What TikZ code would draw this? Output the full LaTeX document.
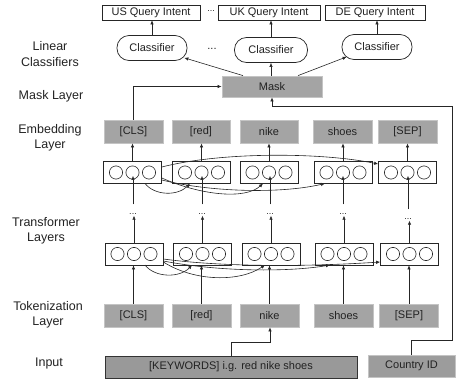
\documentclass[tikz,border=0pt]{standalone}
\usepackage{fontspec}
\setmainfont{Liberation Sans}
\usetikzlibrary{arrows.meta}
\definecolor{boxgray}{HTML}{A4A4A4}
\definecolor{boxline}{HTML}{C4C4C4}
\definecolor{kwgray}{HTML}{999999}
\definecolor{txt}{HTML}{222222}
\begin{document}
\begin{tikzpicture}[x=1pt,y=-1pt,
  font=\fontsize{11}{13}\selectfont, text=txt,
  arr/.style={-{Latex[length=4pt,width=3.5pt]}, line width=0.6pt, black!85},
  ln/.style={line width=0.6pt, black!85},
  outbox/.style={draw=black!85, line width=0.7pt, fill=white, minimum height=15pt, inner sep=0pt},
  clsbox/.style={draw=black!85, line width=0.7pt, fill=white, rounded corners=12pt, minimum width=70pt, minimum height=25pt, inner sep=0pt},
  graybox/.style={draw=boxline, line width=0.8pt, fill=boxgray, minimum width=59pt, minimum height=23pt, inner sep=0pt},
  tfbox/.style={draw=black!85, line width=0.7pt, fill=white, minimum width=58pt, minimum height=22pt, inner sep=0pt},
  lbl/.style={font=\fontsize{12.5}{15.5}\selectfont, align=center, text=txt},
  dots/.style={font=\fontsize{9}{10}\selectfont, inner sep=1pt}
]
\useasboundingbox (0,0) rectangle (456,381);

% left labels
\node[lbl] (Llin) at (50,54) {Linear\\Classifiers};
\node[lbl] (Lmask) at (51,96) {Mask Layer};
\node[lbl] (Lemb) at (50,138) {Embedding\\Layer};
\node[lbl] (Ltf) at (46,231) {Transformer\\Layers};
\node[lbl] (Ltok) at (48,315) {Tokenization\\Layer};
\node[lbl] (Lin) at (49,363) {Input};

% outputs
\node[outbox, minimum width=98pt] (us) at (151,12.5) {US Query Intent};
\node[dots] (odots) at (211,11) {...};
\node[outbox, minimum width=102pt] (uk) at (269,12.5) {UK Query Intent};
\node[outbox, minimum width=100pt] (de) at (375,12.5) {DE Query Intent};

% classifiers
\node[clsbox] (c1) at (152,48) {Classifier};
\node[dots, font=\fontsize{11}{12}\selectfont] (cdots) at (212,49) {...};
\node[clsbox, minimum width=73pt] (c2) at (271,50) {Classifier};
\node[clsbox] (c3) at (377,47) {Classifier};

% mask
\node[graybox, minimum width=100pt, minimum height=21pt] (mask) at (272,86.5) {Mask};

% embedding
\node[graybox] (e1) at (133.5,131.5) {[CLS]};
\node[graybox, minimum width=58pt] (e2) at (201,131.5) {[red]};
\node[graybox, minimum width=58pt] (e3) at (269,131.5) {nike};
\node[graybox] (e4) at (342.5,131.5) {shoes};
\node[graybox] (e5) at (407.5,131.5) {[SEP]};

% upper transformer row
\node[tfbox] (u1) at (132.5,172.5) {};
\node[tfbox] (u2) at (201.5,172.5) {};
\node[tfbox] (u3) at (269,172.5) {};
\node[tfbox] (u4) at (343,172.5) {};
\node[tfbox] (u5) at (407.5,172.5) {};

% dots between rows
\node[dots] (d1) at (133,214) {...};
\node[dots] (d2) at (202,214) {...};
\node[dots] (d3) at (270,214) {...};
\node[dots] (d4) at (343,214) {...};
\node[dots] (d5) at (408,219) {...};

% lower transformer row
\node[tfbox] (l1) at (134,254) {};
\node[tfbox] (l2) at (202.5,254) {};
\node[tfbox] (l3) at (271,254) {};
\node[tfbox] (l4) at (344,254) {};
\node[tfbox] (l5) at (409.5,254) {};

% tokenization
\node[graybox] (t1) at (133.5,315.5) {[CLS]};
\node[graybox] (t2) at (201.5,315.5) {[red]};
\node[graybox] (t3) at (269.5,315.5) {nike};
\node[graybox] (t4) at (343.5,315.5) {shoes};
\node[graybox] (t5) at (409,315.5) {[SEP]};

% inputs
\node[draw=black!80, line width=0.8pt, fill=kwgray, minimum width=252pt, minimum height=22pt, inner sep=0pt] (kw) at (231,367) {[KEYWORDS] i.g. red nike shoes};
\node[graybox, fill=boxgray!95!black, minimum width=87pt, minimum height=22pt] (cid) at (411.5,366) {Country ID};

% circles in transformer boxes
\foreach \n in {u1,u2,u3,u4,u5,l1,l2,l3,l4,l5}{
  \foreach \dx in {-16.5,0,16.5}{
    \draw[line width=0.6pt, black!85] ([xshift=\dx pt]\n.center) circle (6.6pt);
  }
}

% classifiers to outputs
\draw[arr] (c1.north) -- (c1.north |- us.south);
\draw[arr] (c2.north) -- (c2.north |- uk.south);
\draw[arr] (c3.north) -- (c3.north |- de.south);

% mask to classifiers
\draw[arr] ([xshift=-29pt]mask.north) -- ([xshift=-3pt,yshift=3pt]c1.south east);
\draw[arr] (mask.north -| c2.south) -- (c2.south);
\draw[arr] ([xshift=26pt]mask.north) -- ([xshift=5pt,yshift=3pt]c3.south west);

% CLS embedding to mask
\draw[arr] (e1.north) |- (mask.west);

% country id to mask
\coordinate (cA) at (452,340);
\coordinate (cB) at (452,106);
\draw[arr] (cid.north) |- (cA) -- (cB) -| (mask.south);

% keywords to nike token
\coordinate (kA) at (270,342);
\draw[arr] (kw.north) |- (kA) -- (kA |- t3.south);

% tokens to lower row
\foreach \i in {1,...,5}{
  \draw[arr] (t\i.north) -- (t\i.north |- l\i.south);
  \draw[arr] (l\i.north) -- (l\i.north |- d\i.south);
  \draw[arr] ([yshift=8pt]d\i.north) -- ([yshift=8pt]d\i.north |- u\i.south);
  \draw[arr] (u\i.north) -- (u\i.north |- e\i.south);
}

% attention curves, upper row
\draw[arr] ([yshift=5.5pt]u1.east) .. controls (220,152) and (320,152) .. ([yshift=8.5pt]u5.west);
\draw[arr] (145,183.5) .. controls (155,196) and (178,196) .. (190,183.5);
\draw[arr] ([yshift=-5.5pt]u1.east) .. controls (200,195) and (245,200) .. (263,183.5);
\draw[arr] ([yshift=-7.5pt]u1.east) .. controls (210,192) and (280,194) .. (325,183.5);

% attention curves, lower row
\draw[arr] ([yshift=-5pt]l1.east) .. controls (230,268) and (320,266) .. ([yshift=-8pt]l5.west);
\draw[arr] ([yshift=-7pt]l1.east) .. controls (220,272) and (290,272) .. (330,265);
\draw[arr] ([yshift=-8pt]l1.east) .. controls (195,282) and (240,282) .. (265,265);
\draw[arr] (145,265) .. controls (155,278) and (180,278) .. (192,265);
\end{tikzpicture}
\end{document}
